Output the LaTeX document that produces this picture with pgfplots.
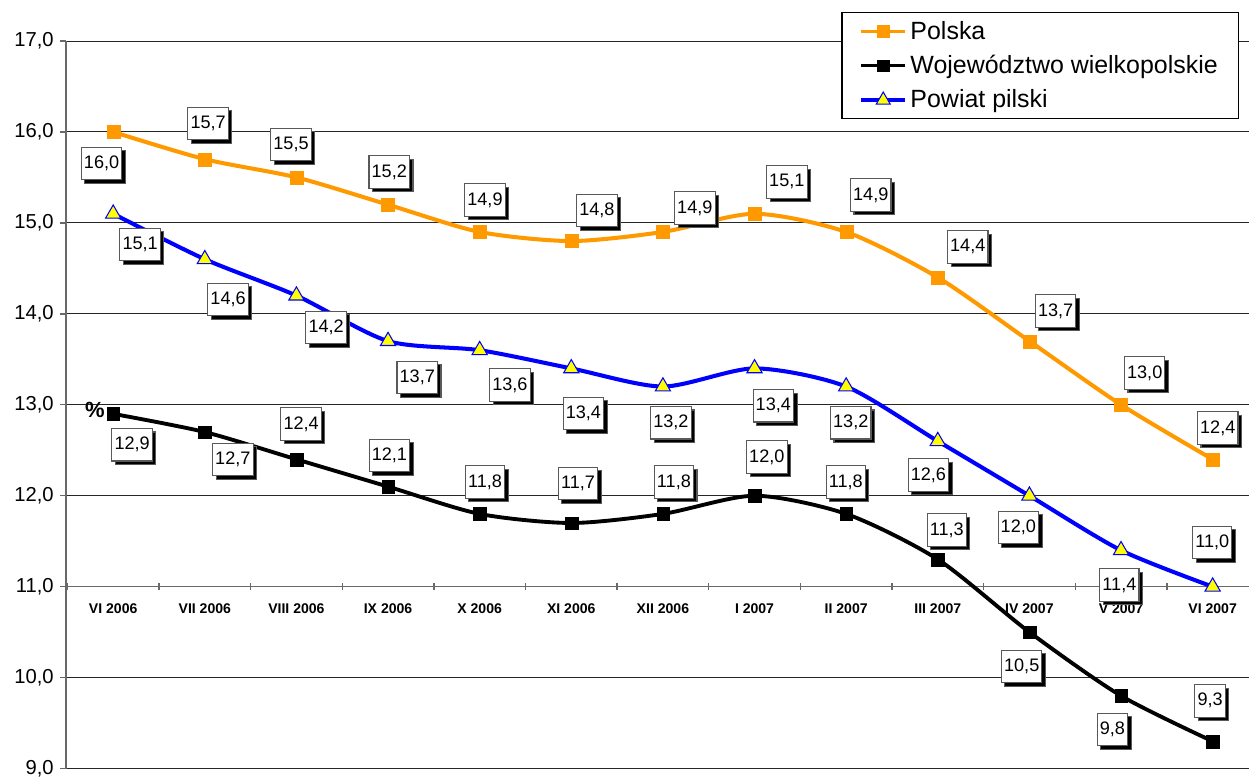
\documentclass[border=0pt]{standalone}
\usepackage{fontspec}
\setmainfont{Liberation Sans}
\usepackage{pgfplots}
\pgfplotsset{compat=1.18}
\usepackage{pgfplotstable}
\usetikzlibrary{shadows}

\definecolor{polska}{RGB}{255,153,0}
\definecolor{powiat}{RGB}{0,0,255}
\definecolor{tri}{RGB}{255,255,0}
\definecolor{axisgray}{RGB}{105,105,105}

% dx, dy: label offset from the point, in pixels of the reference (dy upwards)
\pgfplotstableread{
x y dx dy
0 16.0 -11.6 -31.7
1 15.7 3.3 35.6
2 15.5 -5.4 32.8
3 15.2 1.2 32.5
4 14.9 5.3 31.9
5 14.8 25.6 30.4
6 14.9 31.9 23.8
7 15.1 32.3 31.9
8 14.9 24.6 37.1
9 14.4 30.0 30.6
10 13.7 26.3 30.0
11 13.0 23.7 31.8
12 12.4 5.1 31.3
}\polska

\pgfplotstableread{
x y dx dy
0 12.9 19.0 -30.9
1 12.7 28.0 -27.4
2 12.4 4.7 35.3
3 12.1 1.4 31.1
4 11.8 5.3 32.0
5 11.7 6.7 39.6
6 11.8 11.0 31.9
7 12.0 12.3 38.7
8 11.8 -0.4 32.0
9 11.3 9.0 29.5
10 10.5 -7.7 -34.5
11 9.8 -8.6 -33.8
12 9.3 -2.5 40.5
}\wlkp

\pgfplotstableread{
x y dx dy
0 15.1 27.0 -30.8
1 14.6 23.3 -40.4
2 14.2 29.7 -31.9
3 13.7 29.2 -36.4
4 13.6 30.2 -34.8
5 13.4 12.1 -45.2
6 13.2 8.0 -36.2
7 13.4 18.8 -37.4
8 13.2 4.6 -36.2
9 12.6 -9.4 -33.9
10 12.0 -11.1 -32.0
11 11.4 -1.6 -34.7
12 11.0 -0.4 44.2
}\pilski

\pgfplotsset{
  /pgf/number format/.cd, fixed, fixed zerofill, precision=1, use comma, assume math mode=true,
  /pgfplots/.cd,
  lbl/.style={
    nodes near coords, nodes near coords align=center,
    visualization depends on={\thisrow{dx} \as \dx},
    visualization depends on={\thisrow{dy} \as \dy},
    every node near coord/.append style={
      anchor=center, xshift={0.02cm*(\dx)}, yshift={0.02cm*(\dy)},
      text=black, fill=white, draw=black!65, line width=0.6pt,
      font=\fontsize{10.3}{12}\selectfont, inner xsep=1.5pt, inner ysep=0pt,
      minimum height=0.65cm,
      drop shadow={shadow xshift=0.07cm, shadow yshift=-0.07cm, opacity=1, fill=black}
    }
  }
}

\begin{document}
\begin{tikzpicture}
\begin{axis}[
  scale only axis, width=23.68cm, height=14.56cm,
  xmin=-0.516, xmax=12.4, ymin=9, ymax=17,
  clip=false,
  axis x line=bottom, axis y line=left,
  axis x line shift=-3.64cm,
  axis line style={-, draw=axisgray, line width=0.8pt},
  ytick={9,...,17},
  ymajorgrids, grid style={black!85, line width=0.5pt},
  ytick align=outside, major tick length=0.12cm,
  yticklabel style={font=\fontsize{11.5}{13}\selectfont},
  xtick={0,...,12},
  xticklabels={VI 2006,VII 2006,VIII 2006,IX 2006,X 2006,XI 2006,XII 2006,I 2007,II 2007,III 2007,IV 2007,V 2007,VI 2007},
  xticklabel style={font=\bfseries\fontsize{8}{10}\selectfont, yshift=-0.16cm},
  every major x tick/.style={draw=none},
  minor xtick={-0.5,0.5,...,11.5},
  minor tick length=0.14cm, xtick align=center,
  tick style={draw=axisgray, line width=0.8pt},
  legend cell align=left,
  legend style={at={(axis description cs:1,1)}, anchor=north east,
    xshift=-0.2cm, yshift=0.58cm, draw=black, line width=0.6pt, fill=white,
    font=\fontsize{14.2}{16}\selectfont, inner xsep=0.35cm, inner ysep=0.1cm, row sep=0.13cm},
  legend image code/.code={\draw[mark repeat=2,mark phase=2,#1] plot coordinates {(0cm,0cm) (0.44cm,0cm) (0.88cm,0cm)};},
]
\path (rel axis cs:-0.0557,1.0563) rectangle (rel axis cs:1,-0.0151);

\addlegendimage{color=polska, line width=2pt, mark=square*, mark size=3.3pt, mark options={solid, line width=0.1pt, fill=polska}}
\addlegendentry{Polska}
\addlegendimage{color=black, line width=2pt, mark=square*, mark size=3.3pt, mark options={solid, line width=0.1pt, fill=black}}
\addlegendentry{Województwo wielkopolskie}
\addlegendimage{color=powiat, line width=2pt, mark=triangle*, mark size=4.6pt, mark options={solid, line width=0.6pt, fill=tri, draw=powiat}}
\addlegendentry{Powiat pilski}

\addplot[forget plot, color=polska, line width=2.3pt, smooth, tension=0.45, mark=square*, mark size=3.7pt,
  mark options={solid, line width=0.1pt, fill=polska}, lbl]
  table[x=x, y=y] {\polska};

\addplot[forget plot, color=black, line width=2.2pt, smooth, tension=0.45, mark=square*, mark size=3.6pt,
  mark options={solid, line width=0.1pt, fill=black}, lbl]
  table[x=x, y=y] {\wlkp};

\addplot[forget plot, color=powiat, line width=2.3pt, smooth, tension=0.45, mark=triangle*, mark size=5pt,
  mark options={solid, line width=0.6pt, fill=tri, draw=powiat}, lbl]
  table[x=x, y=y] {\pilski};

\node[font=\bfseries\fontsize{12.5}{14}\selectfont] at (axis cs:-0.2,12.945) {\%};
\end{axis}
\end{tikzpicture}
\end{document}
